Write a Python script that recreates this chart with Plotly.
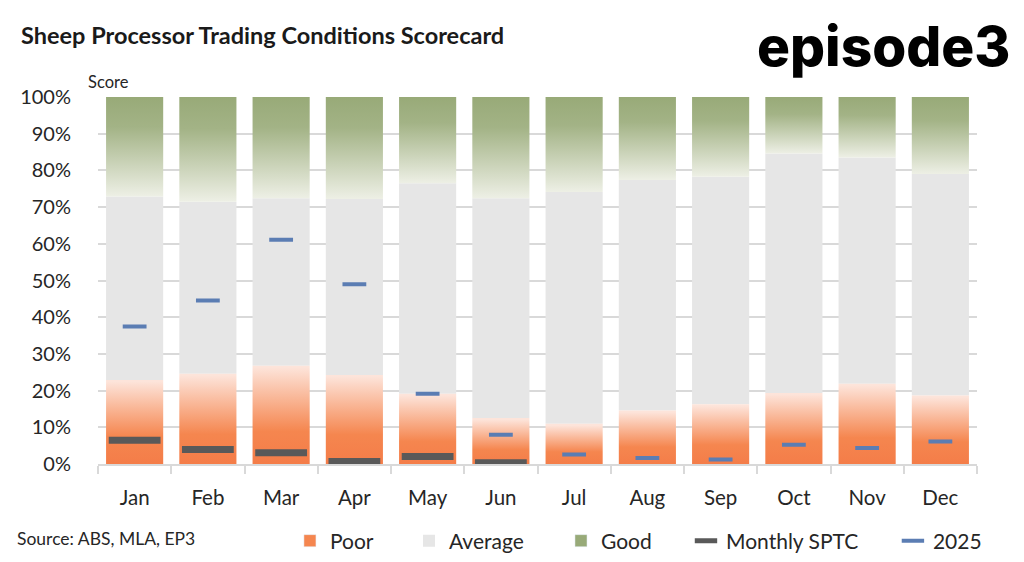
import plotly.graph_objects as go

# scorecard shares (% of respondents)
months = ["Jan", "Feb", "Mar", "Apr", "May", "Jun",
          "Jul", "Aug", "Sep", "Oct", "Nov", "Dec"]
poor = [22.9, 24.6, 26.8, 24.3, 19.2, 12.6, 11.0, 14.6, 16.3, 19.4, 21.9, 18.7]
average = [50.0, 46.9, 45.6, 47.9, 57.3, 59.8, 63.1, 62.8, 62.0, 65.2, 61.6, 60.3]
good = [27.1, 28.5, 27.6, 27.8, 23.5, 27.6, 25.9, 22.6, 21.7, 15.4, 16.5, 21.0]
monthly_sptc = [6.5, 4.0, 3.1, 0.7, 2.1, 0.4, None, None, None, None, None, None]
score_2025 = [37.5, 44.6, 61.1, 49.0, 19.2, 8.0, 2.6, 1.7, 1.3, 5.3, 4.4, 6.2]

FONT = "Lato"
BAR_W = 0.78
ORANGE = "#f47c48"
GREEN = "#98aa78"
GREY = "#e6e6e6"
TXT = "#262626"

xs = list(range(len(months)))
fig = go.Figure()


def band(i, lo, hi, scale, group):
    h = BAR_W / 2
    return go.Scatter(
        x=[i - h, i + h, i + h, i - h, i - h],
        y=[lo, lo, hi, hi, lo],
        mode="lines", fill="toself",
        line=dict(width=0),
        fillgradient=dict(type="vertical", colorscale=scale, start=lo, stop=hi),
        hoverinfo="skip", showlegend=False, legendgroup=group,
    )


poor_scale = [[0, ORANGE], [0.35, "#f5864f"], [1, "#fde4da"]]
good_scale = [[0, "#eef0e6"], [0.7, "#a3b386"], [1, GREEN]]

for i in xs:
    fig.add_trace(band(i, 0, poor[i] / 100, poor_scale, "poor"))

fig.add_trace(go.Bar(
    x=xs, y=[a / 100 for a in average], base=[p / 100 for p in poor],
    width=BAR_W, marker=dict(color=GREY, line=dict(width=0)),
    name="Average", legendgroup="avg", legend="legend2",
))

for i in xs:
    top = (poor[i] + average[i]) / 100
    fig.add_trace(band(i, top, top + good[i] / 100, good_scale, "good"))

# legend swatches for the gradient bands
fig.add_trace(go.Bar(x=[None], y=[None], name="Poor", legendgroup="poor",
                     marker_color="#f5864f", legend="legend"))
fig.add_trace(go.Bar(x=[None], y=[None], name="Good", legendgroup="good",
                     marker_color=GREEN, legend="legend3"))

fig.add_trace(go.Scatter(
    x=xs, y=[v / 100 if v is not None else None for v in monthly_sptc],
    mode="markers", name="Monthly SPTC", legend="legend4",
    marker=dict(symbol="line-ew", size=37, line=dict(width=7, color="#595959")),
))
fig.add_trace(go.Scatter(
    x=xs, y=[v / 100 for v in score_2025],
    mode="markers", name="2025", legend="legend5",
    marker=dict(symbol="line-ew", size=17, line=dict(width=4, color="#5b7db3")),
))


def legend_at(x):
    return dict(orientation="h", x=x, xanchor="left", xref="container",
                y=0.0238, yanchor="middle", yref="container",
                font=dict(family=FONT, size=21, color=TXT), itemwidth=30,
                bgcolor="rgba(0,0,0,0)", itemclick=False, itemdoubleclick=False)


fig.update_layout(
    width=1008, height=546,
    margin=dict(l=89, r=39, t=89, b=88),
    paper_bgcolor="white", plot_bgcolor="white",
    font=dict(family=FONT, color=TXT),
    barmode="overlay",
    title=dict(text="<b>Sheep Processor Trading Conditions Scorecard</b>",
               x=0.0129, xanchor="left", xref="container",
               y=0.9487, yanchor="middle", yref="container",
               font=dict(family=FONT, size=23.5, color="#1a1a1a")),
    xaxis=dict(
        range=[-0.5, len(months) - 0.5],
        tickmode="array", tickvals=xs, ticktext=months,
        ticks="", showgrid=False, zeroline=False,
        showline=True, linecolor="#d9d9d9", linewidth=1.5,
        tickfont=dict(size=20.5), ticklabelstandoff=14,
        minor=dict(tickmode="array",
                   tickvals=[i - 0.5 for i in range(len(months) + 1)],
                   ticks="outside", ticklen=8, tickcolor="#d9d9d9",
                   tickwidth=1.5, showgrid=False),
    ),
    yaxis=dict(
        range=[0, 1], dtick=0.1, tickformat=".0%",
        showgrid=True, gridcolor="#d9d9d9", gridwidth=1.5,
        zeroline=False, showline=False, ticks="",
        tickfont=dict(size=20), ticklabelstandoff=26,
    ),
    legend=legend_at(0.2797),
    legend2=legend_at(0.3978),
    legend3=legend_at(0.5486),
    legend4=legend_at(0.6726),
    legend5=legend_at(0.8779),
    annotations=[
        dict(text="Score", xref="paper", yref="paper", x=-0.014, y=1.04,
             xanchor="left", yanchor="middle", showarrow=False,
             font=dict(family=FONT, size=16.5, color=TXT)),
        dict(text="Source: ABS, MLA, EP3", xref="paper", yref="paper",
             x=-0.094, y=-0.203, xanchor="left", yanchor="middle",
             showarrow=False, font=dict(family=FONT, size=17.5, color=TXT)),
        dict(text="episode3", xref="paper", yref="paper", x=1.041, y=1.14,
             xanchor="right", yanchor="middle", showarrow=False,
             font=dict(family="Inter", size=55, weight=800, color="#000000")),
    ],
)

fig.write_html("out.html")
